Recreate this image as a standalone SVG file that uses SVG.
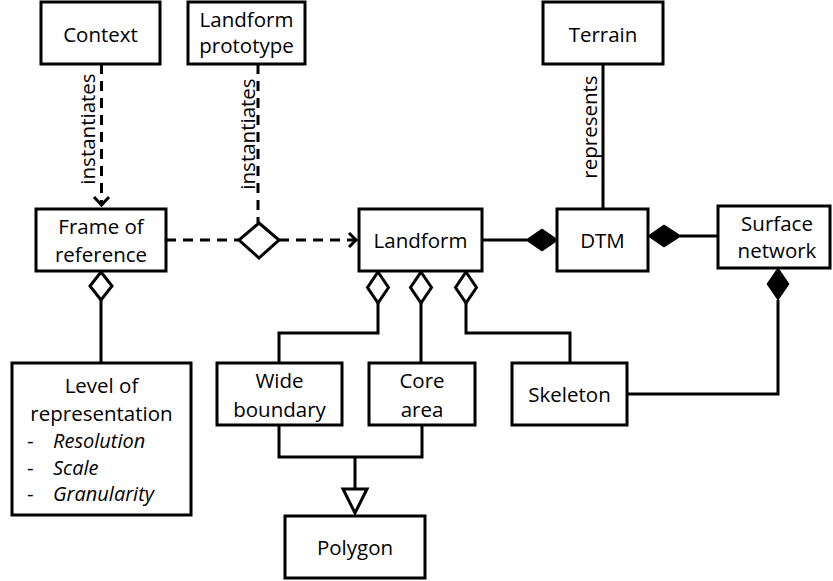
<svg xmlns="http://www.w3.org/2000/svg" width="833" height="581" viewBox="0 0 833 581">
<style>
.box{fill:#fff;stroke:#000;stroke-width:3}
.ln{fill:none;stroke:#000;stroke-width:3}
.dash{fill:none;stroke:#000;stroke-width:3;stroke-dasharray:10 7}
.od{fill:#fff;stroke:#000;stroke-width:3;stroke-linejoin:miter}
.fd{fill:#000;stroke:#000;stroke-width:1}
text{font-family:"Open Sans","Liberation Sans",sans-serif;font-size:20.5px;fill:#000}
.c{text-anchor:middle}
.i{font-style:italic;font-size:20px}
</style>
<rect width="833" height="581" fill="#fff"/>
<g id="connectors">
  <line class="dash" x1="101.5" y1="64" x2="101.5" y2="204"/>
  <polyline class="ln" points="94,197 101.5,205 109,197"/>
  <text class="c" transform="translate(95,129) rotate(-90)">instantiates</text>
  <line class="dash" x1="258" y1="64" x2="258" y2="223"/>
  <text class="c" transform="translate(255,134) rotate(-90)">instantiates</text>
  <line class="dash" x1="166" y1="240" x2="239" y2="240"/>
  <line class="dash" x1="279" y1="240" x2="355" y2="240"/>
  <polyline class="ln" points="349,233 356,240 349,247"/>
  <polygon class="od" points="259,223 279,240 259,258 239,240"/>
  <line class="ln" x1="482" y1="240" x2="527" y2="240"/>
  <polygon class="fd" points="526,240 542,229 558,240 542,251"/>
  <line class="ln" x1="603" y1="64" x2="603" y2="209"/>
  <text class="c" transform="translate(597,127) rotate(-90)">represents</text>
  <line class="ln" x1="680" y1="236" x2="718" y2="236"/>
  <polygon class="fd" points="648,236 664,225 681,236 664,247"/>
  <line class="ln" x1="101" y1="300" x2="101" y2="363"/>
  <polygon class="od" points="101,272 112,286 101,300 90,286"/>
  <polyline class="ln" points="378,303 378,333 279,333 279,363"/>
  <line class="ln" x1="421" y1="303" x2="421" y2="363"/>
  <polyline class="ln" points="466,303 466,333 570,333 570,363"/>
  <polygon class="od" points="378,272 388.5,287.5 378,303 367.5,287.5"/>
  <polygon class="od" points="421,272 431.5,287.5 421,303 410.5,287.5"/>
  <polygon class="od" points="466,272 476.5,287.5 466,303 455.5,287.5"/>
  <polyline class="ln" points="778,300 778,394 627,394"/>
  <polygon class="fd" points="778,268 789,284 778,300 767,284"/>
  <polyline class="ln" points="279,425 279,457 422,457 422,425"/>
  <line class="ln" x1="355" y1="457" x2="355" y2="489"/>
  <polygon class="od" points="343,489 367,489 355,513"/>
</g>
<g id="context"><rect class="box" x="41" y="2" width="119" height="62"/><text class="c" x="100.5" y="42">Context</text></g>
<g id="landform-prototype"><rect class="box" x="188" y="2" width="117" height="62"/><text class="c" x="246.5" y="27">Landform</text><text class="c" x="246.5" y="53">prototype</text></g>
<g id="terrain"><rect class="box" x="543" y="2" width="120" height="62"/><text class="c" x="603" y="42">Terrain</text></g>
<g id="frame-of-reference"><rect class="box" x="36" y="209" width="130" height="62"/><text class="c" x="101" y="234">Frame of</text><text class="c" x="101" y="262">reference</text></g>
<g id="landform"><rect class="box" x="359" y="209" width="123" height="62"/><text class="c" x="420.5" y="248">Landform</text></g>
<g id="dtm"><rect class="box" x="557" y="209" width="91" height="62"/><text class="c" x="602.5" y="248">DTM</text></g>
<g id="surface-network"><rect class="box" x="718" y="206" width="112" height="62"/><text class="c" x="777" y="231">Surface</text><text class="c" x="777" y="258">network</text></g>
<g id="level-of-representation"><rect class="box" x="12" y="363" width="179" height="152"/><text class="c" x="101.5" y="393">Level of</text><text class="c" x="101.5" y="421">representation</text>
<text x="27" y="448">-</text><text class="i" x="53" y="448">Resolution</text>
<text x="27" y="475">-</text><text class="i" x="53" y="475">Scale</text>
<text x="27" y="501">-</text><text class="i" x="53" y="501">Granularity</text></g>
<g id="wide-boundary"><rect class="box" x="217" y="363" width="125" height="62"/><text class="c" x="279.5" y="388">Wide</text><text class="c" x="279.5" y="417">boundary</text></g>
<g id="core-area"><rect class="box" x="369" y="363" width="106" height="62"/><text class="c" x="422" y="388">Core</text><text class="c" x="422" y="417">area</text></g>
<g id="skeleton"><rect class="box" x="512" y="363" width="115" height="62"/><text class="c" x="569.5" y="402">Skeleton</text></g>
<g id="polygon"><rect class="box" x="285" y="516" width="140" height="62"/><text class="c" x="355" y="555">Polygon</text></g>
</svg>
